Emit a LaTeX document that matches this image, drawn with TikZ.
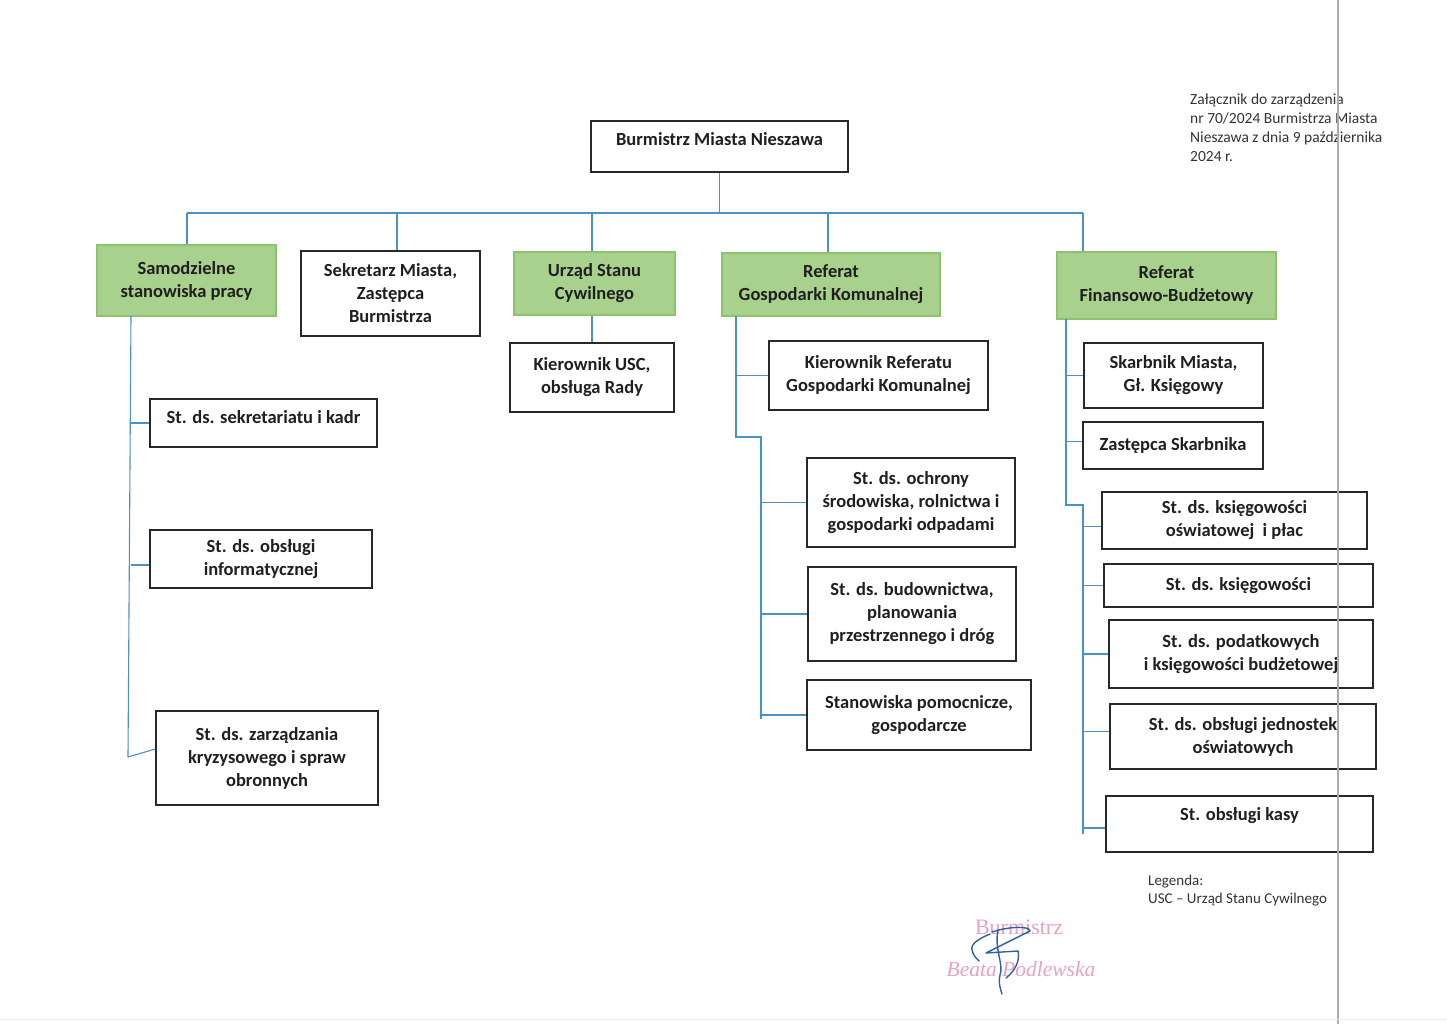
\documentclass[tikz,border=0pt]{standalone}
\usepackage{fontspec}
\setmainfont{Carlito}
\newfontfamily\stampfont{Liberation Serif}
\usetikzlibrary{calc}

\definecolor{linkblue}{RGB}{72,146,196}
\definecolor{unitfill}{RGB}{169,209,142}
\definecolor{unitline}{RGB}{140,196,110}
\definecolor{boxline}{RGB}{40,40,40}
\definecolor{stamppink}{RGB}{232,160,195}
\definecolor{signblue}{RGB}{45,95,170}

\tikzset{
	box/.style={draw=boxline, line width=1.3pt, fill=white, inner sep=0pt, align=center,
		text=black!88, font=\fontsize{18.5}{23}\selectfont\bfseries},
	unit/.style={box, draw=unitline, fill=unitfill},
	sz/.style 2 args={minimum width=#1pt, minimum height=#2pt},
	topline/.style 2 args={text height=#1pt, text depth=#2pt},
	link/.style={draw=linkblue, line width=1.1pt},
	note/.style={inner sep=0pt, align=left, text=black!80}
}

\begin{document}
\begin{tikzpicture}[x=1pt, y=-1pt]
		\useasboundingbox (0,0) rectangle (1447,1024);

		% top
		\node[box, sz={257}{51}, topline={24.5}{26.5}] (burm) at (719.5,146.5) {Burmistrz Miasta Nieszawa};
		\coordinate (b1) at (187,213);
		\coordinate (b2) at (397,213);
		\coordinate (b3) at (592,213);
		\coordinate (b4) at (828,213);
		\coordinate (b5) at (1083,213);

		% second row
		\node[unit, sz={179}{71}] (samo) at (186.5,280.5) {Samodzielne\\stanowiska pracy};
		\node[box, sz={179}{85}] (sekr) at (390.5,293.5) {Sekretarz Miasta,\\Zastępca\\Burmistrza};
		\node[unit, sz={161}{63}] (usc) at (594.5,283.5) {Urząd Stanu\\Cywilnego};
		\node[unit, sz={218}{63}] (rgk) at (831,284.5) {Referat\\Gospodarki Komunalnej};
		\node[unit, sz={219}{67}] (rfb) at (1166.5,285.5) {Referat\\Finansowo-Budżetowy};

		\draw[link] (burm.south) -- (burm.south |- b1);
		\draw[link] (b1) -- (b5);
		\draw[link] (b1) -- (b1 |- samo.north);
		\draw[link] (b2) -- (b2 |- sekr.north);
		\draw[link] (b3) -- (b3 |- usc.north);
		\draw[link] (b4) -- (b4 |- rgk.north);
		\draw[link] (b5) -- (b5 |- rfb.north);

		% samodzielne stanowiska
		\node[box, sz={227}{48}, topline={24.5}{23.5}] (sekad) at (263.5,423) {St. ds. sekretariatu i kadr};
		\node[box, sz={222}{58}] (info) at (261,559) {St. ds. obsługi\\informatycznej};
		\node[box, sz={222}{94}] (kryz) at (267,758) {St. ds. zarządzania\\kryzysowego i spraw\\obronnych};
		\coordinate (s0) at (131,316);
		\coordinate (s1) at (128,757);
		\draw[link] (s0) -- (s1);
		\draw[link] (sekad.west) -- (sekad.west -| s0);
		\draw[link] ([yshift=-6pt]info.west) -- ([yshift=-6pt]info.west -| s0);
		\draw[link] ([yshift=9pt]kryz.west) -- (s1);

		% USC
		\node[box, sz={164}{69}] (kusc) at (592,377.5) {Kierownik USC,\\obsługa Rady};
		\draw[link] (kusc.north) -- (kusc.north |- usc.south);

		% gospodarka komunalna
		\node[box, sz={219}{69}] (krgk) at (878.5,375.5) {Kierownik Referatu\\Gospodarki Komunalnej};
		\node[box, sz={208}{89}] (ochr) at (911,502.5) {St. ds. ochrony\\środowiska, rolnictwa i\\gospodarki odpadami};
		\node[box, sz={208}{94}] (bud) at (912,614) {St. ds. budownictwa,\\planowania\\przestrzennego i dróg};
		\node[box, sz={224}{70}] (pom) at (919,715) {Stanowiska pomocnicze,\\gospodarcze};
		\coordinate (g0) at (736,316);
		\coordinate (g1) at (736,437);
		\coordinate (g2) at (761,437);
		\coordinate (g3) at (761,719);
		\draw[link] (g0) -- (g1) -- (g2) -- (g3);
		\draw[link] (krgk.west) -- (krgk.west -| g0);
		\draw[link] (ochr.west) -- (ochr.west -| g2);
		\draw[link] (bud.west) -- (bud.west -| g2);
		\draw[link] (pom.west) -- (pom.west -| g2);

		% finanse
		\node[box, sz={179}{65}] (skarb) at (1173.5,375.5) {Skarbnik Miasta,\\Gł. Księgowy};
		\node[box, sz={180}{47}] (zast) at (1173,445.5) {Zastępca Skarbnika};
		\node[box, sz={265}{57}] (ksosw) at (1234.5,520.5) {St. ds. księgowości\\oświatowej~ i płac};
		\node[box, sz={269}{43}] (ksieg) at (1238.5,585.5) {St. ds. księgowości};
		\node[box, sz={264}{68}] (podat) at (1241,654) {St. ds. podatkowych\\i księgowości budżetowej};
		\node[box, sz={266}{65}] (jedn) at (1243,736.5) {St. ds. obsługi jednostek\\oświatowych};
		\node[box, sz={267}{56}, topline={24.5}{31.5}] (kasa) at (1239.5,824) {St. obsługi kasy};
		\coordinate (f0) at (1066,319);
		\coordinate (f1) at (1066,505);
		\coordinate (f2) at (1083,505);
		\coordinate (f3) at (1083,834);
		\draw[link] (f0) -- (f1) -- (f2) -- (f3);
		\draw[link] (skarb.west) -- (skarb.west -| f0);
		\draw[link] ([yshift=4pt]zast.west) -- ([yshift=4pt]zast.west -| f0);
		\draw[link] ([yshift=-6pt]ksosw.west) -- ([yshift=-6pt]ksosw.west -| f2);
		\draw[link] (ksieg.west) -- (ksieg.west -| f2);
		\draw[link] (podat.west) -- (podat.west -| f2);
		\draw[link] ([yshift=5pt]jedn.west) -- ([yshift=5pt]jedn.west -| f2);
		\draw[link] ([yshift=-4pt]kasa.west) -- ([yshift=-4pt]kasa.west -| f2);

		% notes
		\node[note, anchor=north west, font=\fontsize{15.5}{19}\selectfont] (zal) at (1190,94)
			{Załącznik do zarządzenia\\nr 70/2024 Burmistrza Miasta\\Nieszawa z dnia 9 października\\2024 r.};
		\node[note, anchor=north west, font=\fontsize{15}{18}\selectfont] (leg) at (1148,875)
			{Legenda:\\USC – Urząd Stanu Cywilnego};

		% stamp and signature
		\node[text=stamppink, font=\stampfont\fontsize{22}{22}\selectfont] (stamp1) at (1019,927) {Burmistrz};
		\node[text=stamppink, font=\stampfont\itshape\fontsize{21.5}{22}\selectfont] (stamp2) at (1021,969) {Beata Podlewska};
		\draw[signblue, line width=1.4pt, line cap=round, line join=round]
			(992,932) .. controls (1010,926) and (1030,926) .. (1030,931)
			-- (986,953) -- (1018,951)
			.. controls (1020,960) and (1016,970) .. (1006,978);
		\draw[signblue, line width=1.4pt, line cap=round]
			(990,934) .. controls (980,938) and (970,944) .. (972,950)
			.. controls (973,955) and (976,958) .. (979,961);
		\draw[signblue, line width=1.4pt, line cap=round]
			(998,930) .. controls (994,948) and (1004,965) .. (1000,975)
			.. controls (998,984) and (1001,990) .. (1002,994);

		% scan edges
		\draw[gray!65, line width=1.6pt] (1338,0) -- (1338,1024);
		\draw[gray!15, line width=1pt] (0,1019) -- (1447,1019);
	\end{tikzpicture}
\end{document}
